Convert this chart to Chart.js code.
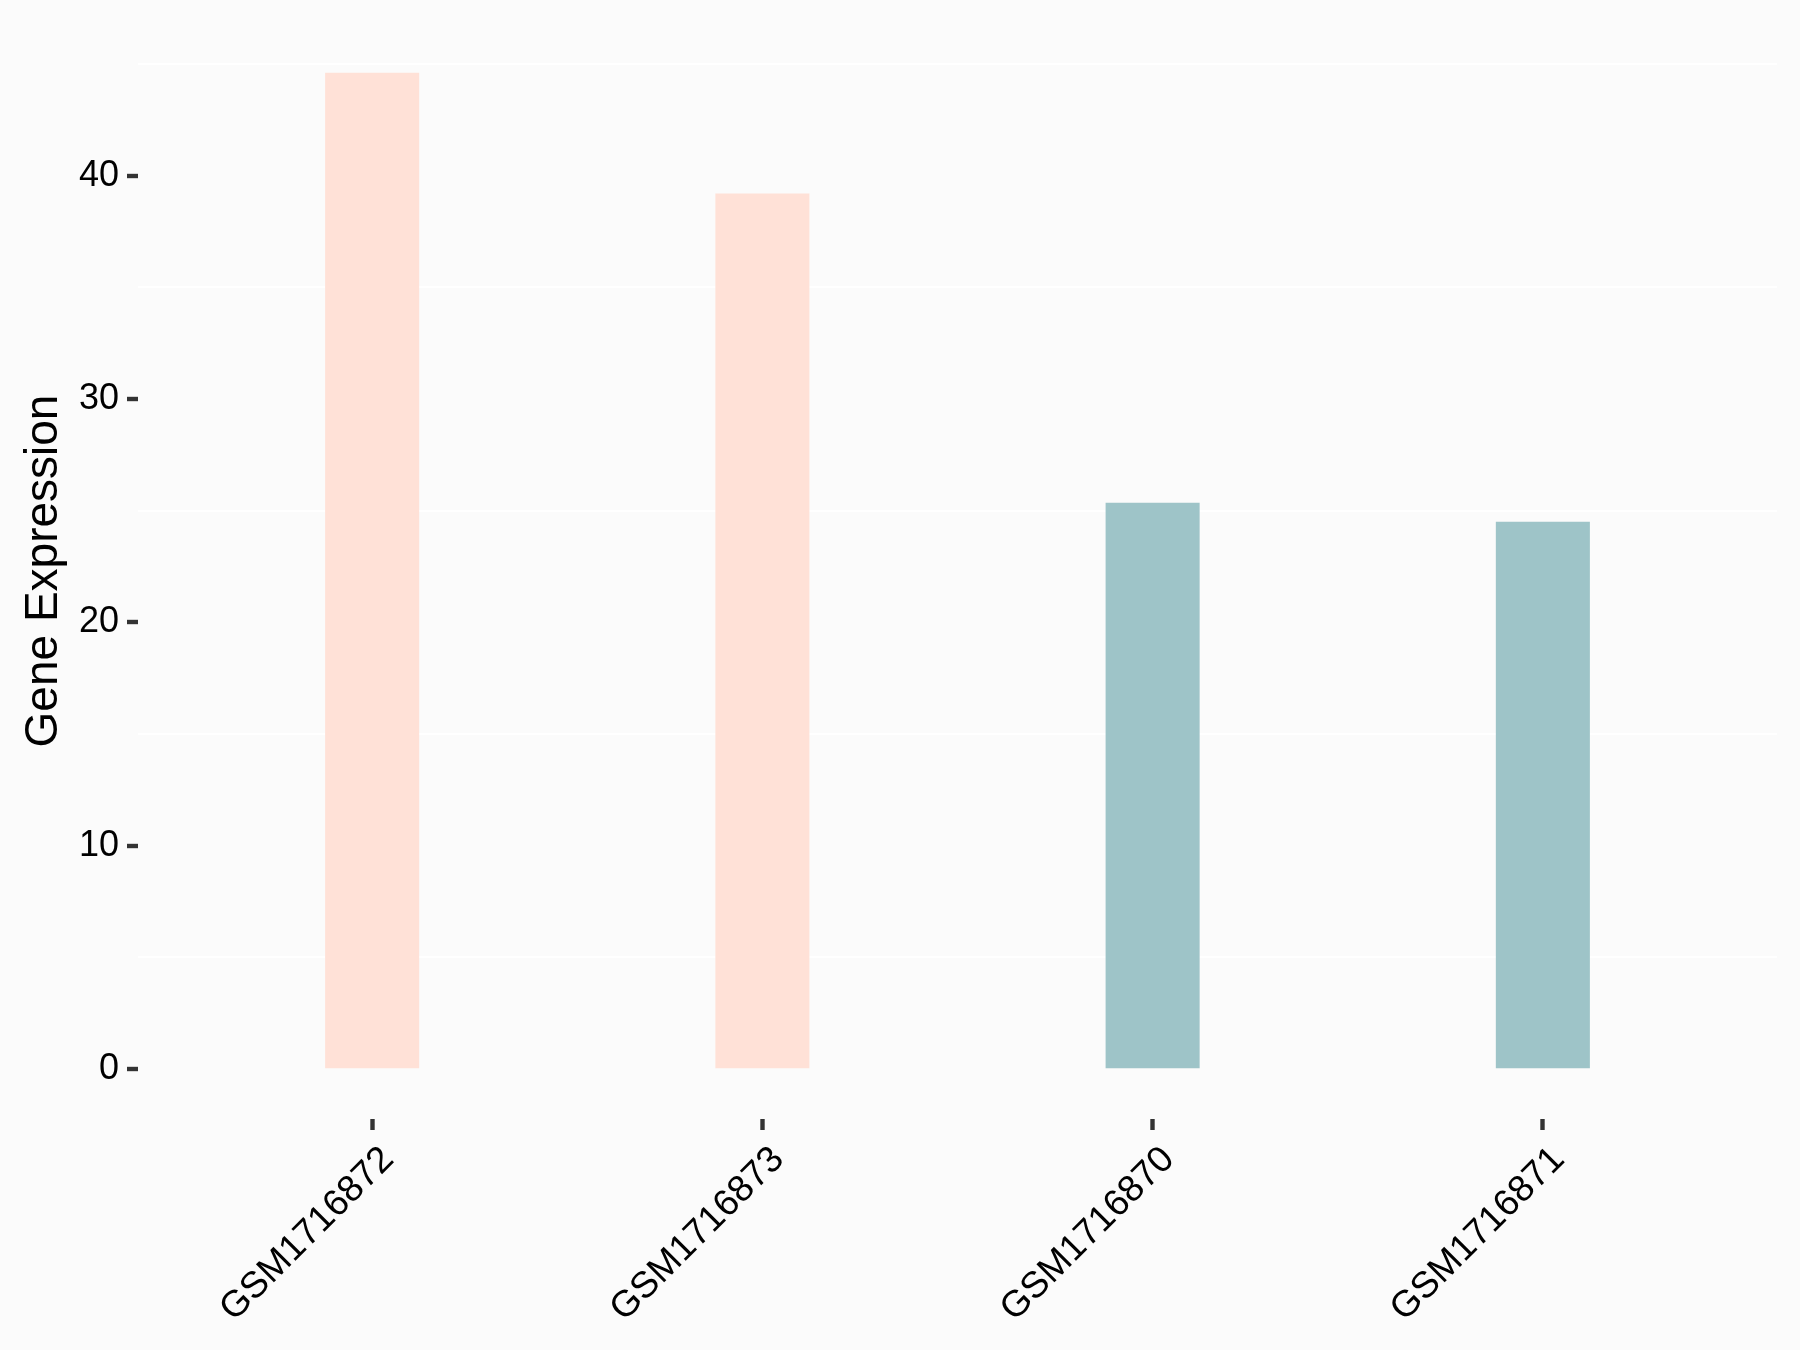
<!DOCTYPE html>
<html>
<head>
<meta charset="utf-8">
<script src="https://cdn.jsdelivr.net/npm/chart.js@4"></script>
<style>
  html, body { margin: 0; padding: 0; background: #FBFBFB; }
  #wrap { width: 1800px; height: 1350px; }
</style>
</head>
<body>
<div id="wrap"><canvas id="chart" width="1800" height="1350"></canvas></div>
<script>
const samples = ['GSM1716872', 'GSM1716873', 'GSM1716870', 'GSM1716871'];
const expression = [44.6, 39.2, 25.35, 24.5];
const groupOf = [0, 0, 1, 1];
const groupColors = ['#FFE1D7', '#9EC4C8'];
const yTicks = [0, 5, 10, 15, 20, 25, 30, 35, 40, 45];

const peak = Math.max(...expression);
const yMin = -0.05 * peak;
const yMax = 1.05 * peak;

const isMajor = (v) => v % 10 === 0;

const ctx = document.getElementById('chart').getContext('2d');
new Chart(ctx, {
  type: 'bar',
  data: {
    datasets: [{
      label: 'Gene Expression',
      data: samples.map((s, i) => ({ x: i, y: expression[i] })),
      backgroundColor: groupOf.map(g => groupColors[g]),
      borderWidth: 0,
      categoryPercentage: 1,
      barPercentage: 0.241,
    }],
  },
  options: {
    responsive: false,
    animation: false,
    layout: { padding: { top: 23, right: 23, left: 0, bottom: 0 } },
    plugins: { legend: { display: false }, tooltip: { enabled: false } },
    scales: {
      x: {
        type: 'linear',
        offset: false,
        min: -0.6,
        max: samples.length - 0.4,
        afterBuildTicks: (scale) => { scale.ticks = samples.map((s, i) => ({ value: i })); },
        afterFit: (scale) => {
          scale.height = 231;
          scale.paddingLeft = 0;
          scale.paddingRight = 0;
        },
        grid: { offset: false, drawOnChartArea: false, tickLength: 11, tickWidth: 4.4, tickColor: '#333333' },
        border: { display: false },
        ticks: {
          autoSkip: false,
          minRotation: 45,
          maxRotation: 45,
          padding: 8,
          labelOffset: 16,
          color: '#000000',
          font: { family: 'Liberation Sans, Arial, sans-serif', size: 37 },
          callback: (v) => samples[v],
        },
      },
      y: {
        min: yMin,
        max: yMax,
        afterBuildTicks: (scale) => { scale.ticks = yTicks.map(v => ({ value: v })); },
        afterFit: (scale) => {
          scale.width = 138;
          scale.paddingTop = 0;
          scale.paddingBottom = 0;
        },
        grid: {
          color: (c) => (c.tick && isMajor(c.tick.value)) ? 'rgba(0,0,0,0)' : '#FFFFFF',
          lineWidth: 2,
          tickLength: 11,
          tickWidth: 4.4,
          tickColor: (c) => (c.tick && isMajor(c.tick.value)) ? '#333333' : 'rgba(0,0,0,0)',
        },
        border: { display: false },
        title: {
          display: true,
          text: 'Gene Expression',
          color: '#000000',
          font: { family: 'Liberation Sans, Arial, sans-serif', size: 46 },
          padding: { top: 17, bottom: 0 },
        },
        ticks: {
          autoSkip: false,
          padding: 8,
          color: '#000000',
          font: { family: 'Liberation Sans, Arial, sans-serif', size: 36 },
          callback: (v) => isMajor(v) ? String(v) : '',
        },
      },
    },
  },
});
</script>
</body>
</html>
